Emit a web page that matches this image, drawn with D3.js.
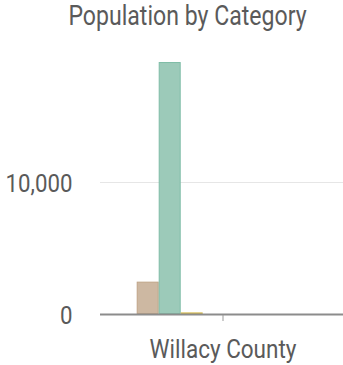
<!DOCTYPE html>
<html><head><meta charset="utf-8">
<script src="https://cdn.jsdelivr.net/npm/d3@7"></script>
<style>body{margin:0;background:#fff;} svg{display:block;font-family:Roboto, sans-serif;}</style>
</head><body>
<svg id="c" width="343" height="365"></svg>
<script>
const categories = ["Willacy County"];
const seriesNames = ["White", "Hispanic", "Black", "Asian", "Native", "Pacific", "Other", "Two+"];
const seriesValues = [2450, 19090, 120, 0, 0, 0, 0, 0];
const seriesFill = ["#cdb8a2", "#9ccab9", "#e3cf7a", "#aab8d4", "#d4a5a5", "#b5c99a", "#c9b3d6", "#a8d0d8"];
const seriesStroke = ["#c0a487", "#7fbda7", "#d4b94c", "#8fa0c4", "#c48888", "#9ab67a", "#b497c8", "#88bcc8"];
const yTicks = [0, 10000];

const svg = d3.select("#c");
const x0 = d3.scaleBand().domain(categories).range([100, 346]).paddingInner(0).paddingOuter(0);
const x1 = d3.scaleBand().domain(seriesNames).range([36.7, 36.7 + 22 * 8]);
const y = d3.scaleLinear().domain([0, 10000]).range([314, 182]);
const textColor = "#5a5a5a";

function condText(sel, x, yy, size, sx, anchor, txt) {
  return sel.append("text")
    .attr("transform", `translate(${x},${yy}) scale(${sx},1)`)
    .attr("text-anchor", anchor).attr("font-size", size).attr("fill", textColor).text(txt);
}

condText(svg, 187.5, 25, 27.5, 0.84, "middle", "Population by Category");

// gridlines
svg.append("g").selectAll("line").data(yTicks.filter(d => d > 0)).join("line")
  .attr("x1", 100).attr("x2", 346).attr("y1", d => y(d) + 0.5).attr("y2", d => y(d) + 0.5)
  .attr("stroke", "#e6e6e6").attr("stroke-width", 1);

yTicks.forEach(t => condText(svg, 72.5, y(t) + 9.5, 26.5, 0.84, "end", d3.format(",")(t)));

// bars
const g = svg.append("g");
categories.forEach((c, ci) => {
  const gx = x0(c);
  g.selectAll("rect.s" + ci).data(seriesValues.map((v, i) => ({v, i, name: seriesNames[i]}))).join("rect")
    .attr("x", d => gx + x1(d.name) + 0.5)
    .attr("width", x1.bandwidth() - 1)
    .attr("y", d => y(d.v) + 0.5)
    .attr("height", d => Math.max(0, y(0) - y(d.v) - 1))
    .attr("fill", d => seriesFill[d.i])
    .attr("stroke", d => seriesStroke[d.i]).attr("stroke-width", 1);
});

// x axis
svg.append("line").attr("x1", 100).attr("x2", 346).attr("y1", 314.5).attr("y2", 314.5)
  .attr("stroke", "#8c8c8c").attr("stroke-width", 2);
categories.forEach(c => {
  const cx = x0(c) + x0.bandwidth() / 2;
  svg.append("line").attr("x1", cx).attr("x2", cx).attr("y1", 315).attr("y2", 321).attr("stroke", "#999").attr("stroke-width", 1);
  condText(svg, cx, 357.7, 25, 0.9, "middle", c);
});
</script>
</body></html>
